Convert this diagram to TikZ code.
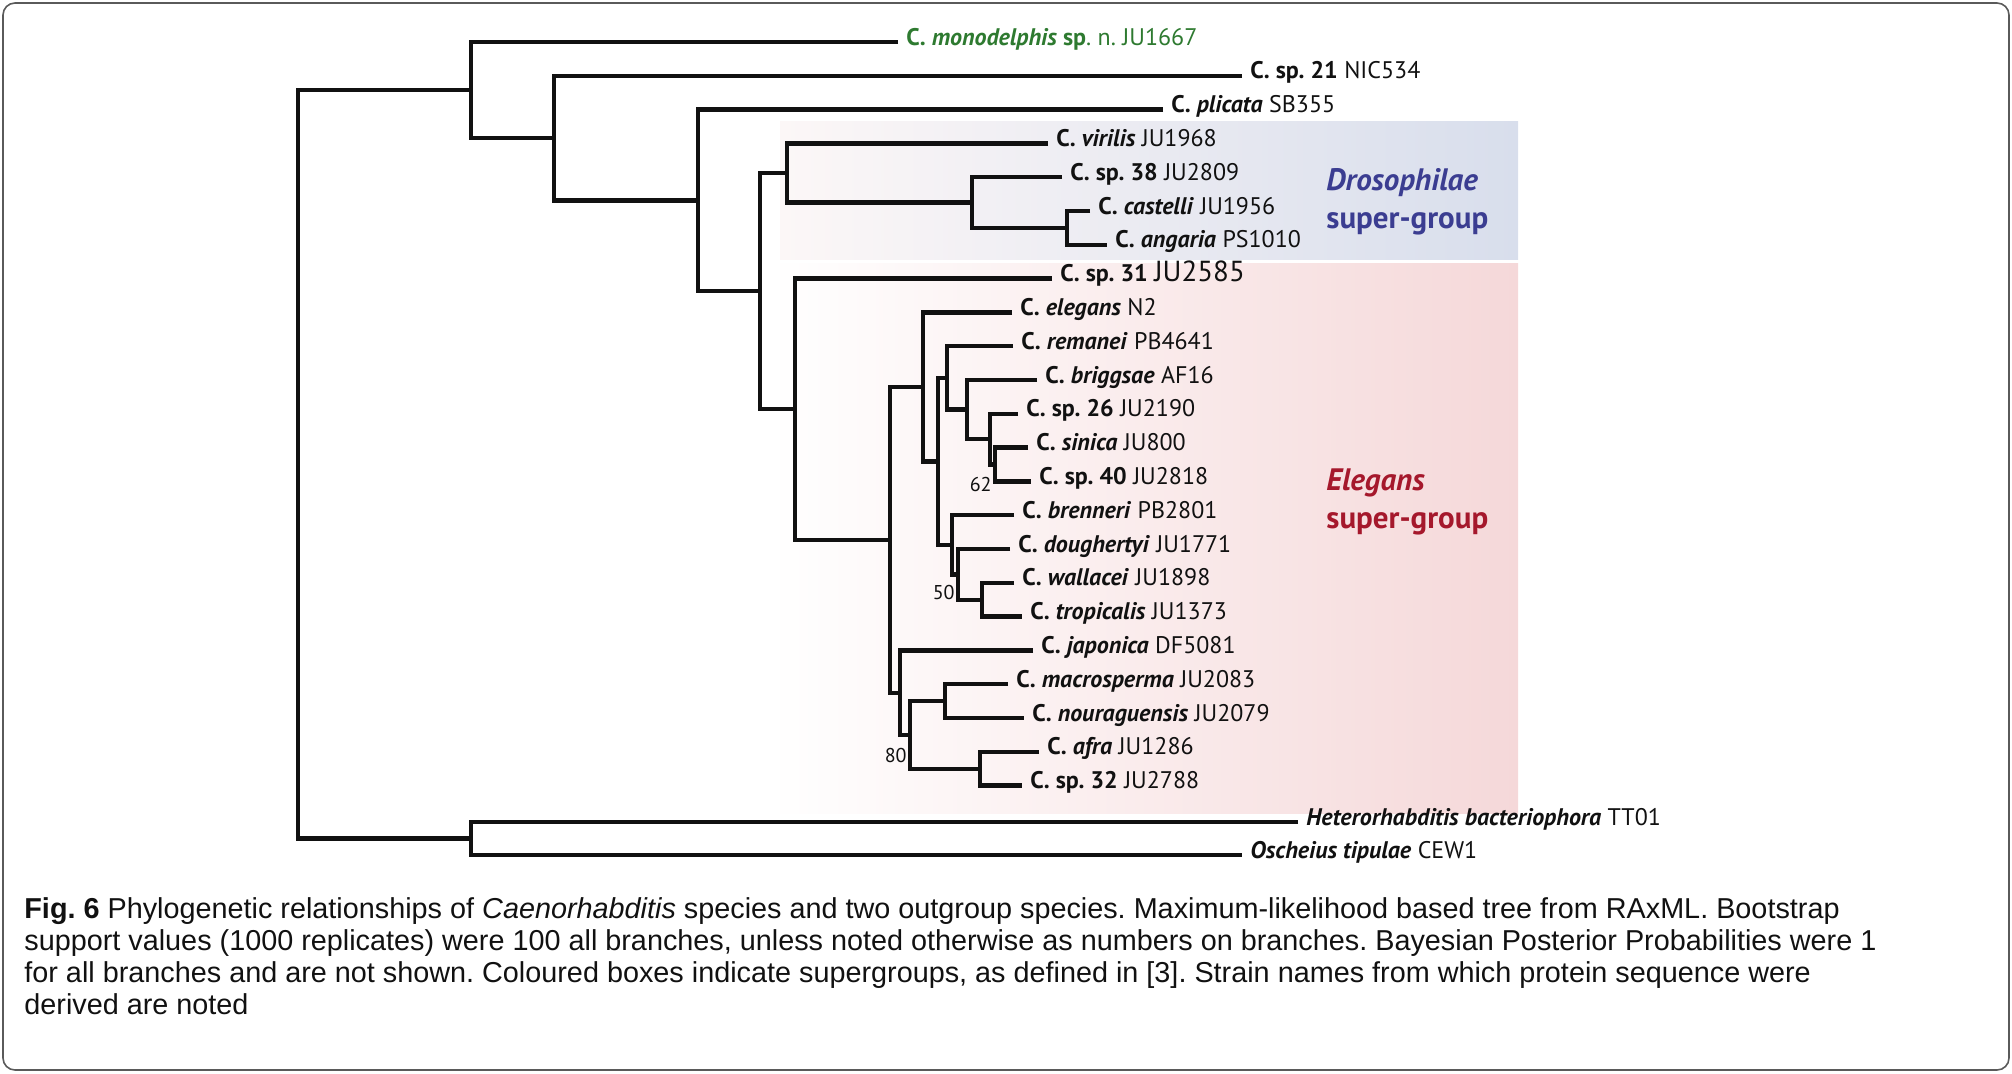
\documentclass[tikz,border=0pt]{standalone}
\usepackage{fontspec}
\setmainfont{Liberation Sans}
\newfontfamily\treefont{PT Sans}
\usetikzlibrary{backgrounds}
\frenchspacing
\definecolor{ink}{HTML}{111111}
\definecolor{framegray}{HTML}{5A5A5A}
\definecolor{monogreen}{HTML}{2E7A30}
\definecolor{drosoblue}{HTML}{3B3D91}
\definecolor{drosofill}{HTML}{D8DEEC}
\definecolor{drosofade}{HTML}{FCF7F7}
\definecolor{elegred}{HTML}{A5182C}
\definecolor{elegfill}{HTML}{F5D8D9}
\tikzset{
  branch/.style={line width=2.2pt,draw=ink},
  leaf/.style={
    anchor=west,
    inner xsep=4pt,
    inner ysep=0pt,
    text height=1.5ex,
    text depth=.9ex,
    font=\treefont\fontsize{12}{14}\selectfont,
    text=ink
  },
  boot/.style={inner sep=0pt,anchor=east,font=\treefont\fontsize{10}{12}\selectfont,text=ink},
  groupTitle/.style={anchor=base west,inner sep=0pt,font=\treefont\bfseries\fontsize{15.5}{18}\selectfont},
  capline/.style={anchor=base west,inner sep=0pt,font=\fontsize{14.4}{16}\selectfont,text=ink}
}
\newcommand{\taxon}[3]{\textbf{#1 \textit{#2}} #3}

\begin{document}
\begin{tikzpicture}[x=.5pt,y=-.5pt]
  \useasboundingbox (0,0) rectangle (2012,1073);
  \draw[framegray,line width=.8pt,rounded corners=6pt] (3,3) rectangle (2009,1070);

  % super-group boxes fade in from the left
  \begin{scope}[on background layer]
    \shade[left color=drosofade,right color=drosofill] (780,121) rectangle (1518,259);
    \shade[left color=white,right color=elegfill] (770,263) rectangle (1518,813);
  \end{scope}
  \node[groupTitle,text=drosoblue] (drosoName) at (1326,190) {\textit{Drosophilae}};
  \node[groupTitle,text=drosoblue] (drosoGroup) at (1326,228) {super-group};
  \node[groupTitle,text=elegred] (elegName) at (1326,490) {\textit{Elegans}};
  \node[groupTitle,text=elegred] (elegGroup) at (1326,528) {super-group};

  \node[leaf,text=monogreen] (mono) at (898,42) {\textbf{C. \textit{monodelphis} sp}. n. JU1667};
  \node[leaf] (sp21) at (1242,75.8) {\textbf{C. sp. 21} NIC534};
  \node[leaf] (plicata) at (1163,109.6) {\taxon{C.}{plicata}{SB355}};
  \node[leaf] (virilis) at (1048,143.4) {\taxon{C.}{virilis}{JU1968}};
  \node[leaf] (sp38) at (1062,177.2) {\textbf{C. sp. 38} JU2809};
  \node[leaf] (castelli) at (1090,211) {\taxon{C.}{castelli}{JU1956}};
  \node[leaf] (angaria) at (1107,244.8) {\taxon{C.}{angaria}{PS1010}};
  \node[leaf] (sp31) at (1052,278.6) {\textbf{C. sp. 31} {\fontsize{14.5}{16}\selectfont JU2585}};
  \node[leaf] (elegans) at (1012,312.4) {\taxon{C.}{elegans}{N2}};
  \node[leaf] (remanei) at (1013,346.2) {\taxon{C.}{remanei}{PB4641}};
  \node[leaf] (briggsae) at (1037,380) {\taxon{C.}{briggsae}{AF16}};
  \node[leaf] (sp26) at (1018,413.8) {\textbf{C. sp. 26} JU2190};
  \node[leaf] (sinica) at (1028,447.6) {\taxon{C.}{sinica}{JU800}};
  \node[leaf] (sp40) at (1031,481.4) {\textbf{C. sp. 40} JU2818};
  \node[leaf] (brenneri) at (1014,515.2) {\taxon{C.}{brenneri}{PB2801}};
  \node[leaf] (doughertyi) at (1010,549) {\taxon{C.}{doughertyi}{JU1771}};
  \node[leaf] (wallacei) at (1014,582.8) {\taxon{C.}{wallacei}{JU1898}};
  \node[leaf] (tropicalis) at (1022,616.6) {\taxon{C.}{tropicalis}{JU1373}};
  \node[leaf] (japonica) at (1033,650.4) {\taxon{C.}{japonica}{DF5081}};
  \node[leaf] (macrosperma) at (1008,684.2) {\taxon{C.}{macrosperma}{JU2083}};
  \node[leaf] (nouraguensis) at (1024,718) {\taxon{C.}{nouraguensis}{JU2079}};
  \node[leaf] (afra) at (1039,751.8) {\taxon{C.}{afra}{JU1286}};
  \node[leaf] (sp32) at (1022,785.6) {\textbf{C. sp. 32} JU2788};
  \node[leaf] (hetero) at (1298,822) {\textbf{\textit{Heterorhabditis bacteriophora}} TT01};
  \node[leaf] (oscheius) at (1242,855) {\textbf{\textit{Oscheius tipulae}} CEW1};

  \coordinate (Ca) at (1067,228);
  \coordinate (S38) at (972,202.6);
  \coordinate (V) at (787,173);
  \coordinate (Si) at (995,464.5);
  \coordinate (S26) at (990,439.2);
  \coordinate (Bg) at (967,409.6);
  \coordinate (R) at (947,377.9);
  \coordinate (W) at (982,599.7);
  \coordinate (Dg) at (958,574.4);
  \coordinate (Bn) at (952,544.8);
  \coordinate (H) at (938,461.4);
  \coordinate (G) at (923,386.9);
  \coordinate (M) at (945,701.1);
  \coordinate (A2) at (980,768.7);
  \coordinate (K) at (910,734.9);
  \coordinate (J) at (900,692.7);
  \coordinate (F) at (890,539.8);
  \coordinate (E) at (795,409.2);
  \coordinate (D) at (760,291.1);
  \coordinate (C) at (698,200.4);
  \coordinate (B) at (554,138.1);
  \coordinate (A) at (471,90.1);
  \coordinate (O) at (471,838.5);
  \coordinate (root) at (298,464.3);

  \draw[branch] (castelli.west) -| (Ca) |- (angaria.west);
  \draw[branch] (sp38.west) -| (S38) |- (Ca);
  \draw[branch] (virilis.west) -| (V) |- (S38);
  \draw[branch] (sinica.west) -| (Si) |- (sp40.west);
  \draw[branch] (sp26.west) -| (S26) |- (Si);
  \draw[branch] (briggsae.west) -| (Bg) |- (S26);
  \draw[branch] (remanei.west) -| (R) |- (Bg);
  \draw[branch] (wallacei.west) -| (W) |- (tropicalis.west);
  \draw[branch] (doughertyi.west) -| (Dg) |- (W);
  \draw[branch] (brenneri.west) -| (Bn) |- (Dg);
  \draw[branch] (R) -| (H) |- (Bn);
  \draw[branch] (elegans.west) -| (G) |- (H);
  \draw[branch] (macrosperma.west) -| (M) |- (nouraguensis.west);
  \draw[branch] (afra.west) -| (A2) |- (sp32.west);
  \draw[branch] (M) -| (K) |- (A2);
  \draw[branch] (japonica.west) -| (J) |- (K);
  \draw[branch] (G) -| (F) |- (J);
  \draw[branch] (sp31.west) -| (E) |- (F);
  \draw[branch] (V) -| (D) |- (E);
  \draw[branch] (plicata.west) -| (C) |- (D);
  \draw[branch] (sp21.west) -| (B) |- (C);
  \draw[branch] (mono.west) -| (A) |- (B);
  \draw[branch] (hetero.west) -| (O) |- (oscheius.west);
  \draw[branch] (A) -| (root) |- (O);

  \node[boot] (bs62) at (992,484) {62};
  \node[boot] (bs50) at (955,592) {50};
  \node[boot] (bs80) at (907,755) {80};

  \node[capline] (capOne) at (24,918) {\textbf{Fig. 6} Phylogenetic relationships of \textit{Caenorhabditis} species and two outgroup species. Maximum-likelihood based tree from RAxML. Bootstrap};
  \node[capline] (capTwo) at (24,950) {support values (1000 replicates) were 100 all branches, unless noted otherwise as numbers on branches. Bayesian Posterior Probabilities were 1};
  \node[capline] (capThree) at (24,982) {for all branches and are not shown. Coloured boxes indicate supergroups, as defined in [3]. Strain names from which protein sequence were};
  \node[capline] (capFour) at (24,1014) {derived are noted};
\end{tikzpicture}
\end{document}
